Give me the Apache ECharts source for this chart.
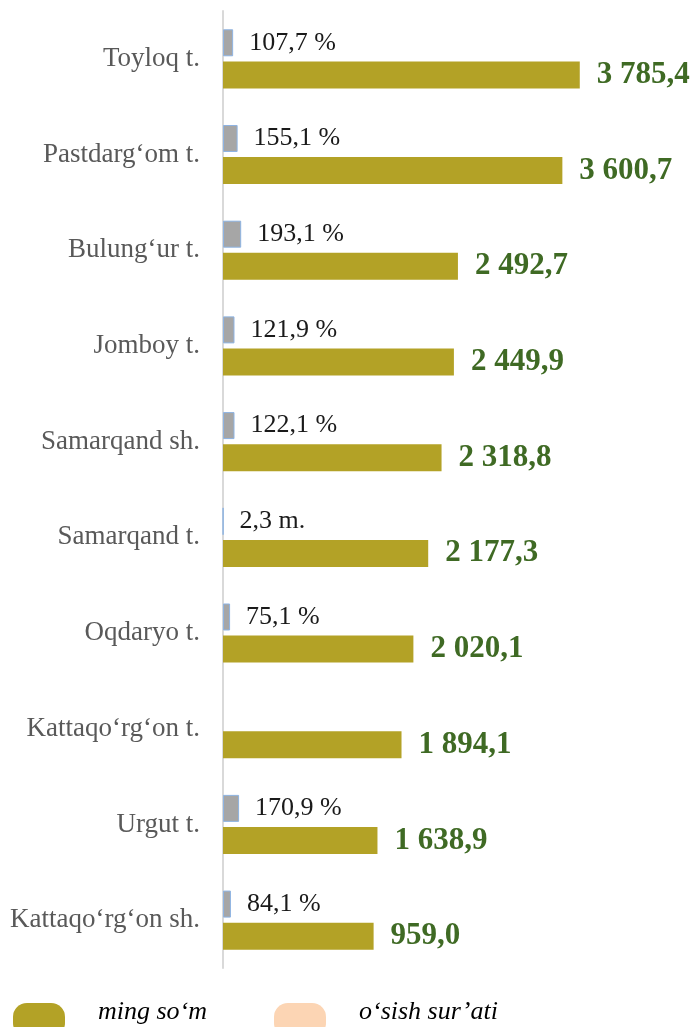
<!DOCTYPE html>
<html>
<head>
<meta charset="utf-8">
<script src="https://cdn.jsdelivr.net/npm/echarts@6/dist/echarts.min.js"></script>
<style>
  html, body { margin: 0; padding: 0; background: #fff; }
  #mychart { width: 699px; height: 1027px; }
</style>
</head>
<body>
<div id="mychart"></div>
<script>
  // tumanlar / shaharlar
  var districts = ['Toyloq t.', 'Pastdarg‘om t.', 'Bulung‘ur t.', 'Jomboy t.', 'Samarqand sh.',
    'Samarqand t.', 'Oqdaryo t.', 'Kattaqo‘rg‘on t.', 'Urgut t.', 'Kattaqo‘rg‘on sh.'];
  // ming so'm (bar lengths as drawn) and their printed labels
  var somValues = [3785.4, 3600.7, 2492.7, 2449.9, 2318.8, 2177.3, 2020.1, 1894.1, 1638.9, 1598];
  var somLabels = ['3 785,4', '3 600,7', '2 492,7', '2 449,9', '2 318,8', '2 177,3', '2 020,1', '1 894,1', '1 638,9', '959,0'];
  // o'sish sur'ati
  var growthValues = [107.7, 155.1, 193.1, 121.9, 122.1, 2.3, 75.1, null, 170.9, 84.1];
  var growthLabels = ['107,7 %', '155,1 %', '193,1 %', '121,9 %', '122,1 %', '2,3 m.', '75,1 %', '', '170,9 %', '84,1 %'];

  var serif = '"Liberation Serif", "Times New Roman", serif';
  var pill = 'path://M14,0 H38 A14,14 0 0 1 52,14 V20 A14,14 0 0 1 38,34 H14 A14,14 0 0 1 0,20 V14 A14,14 0 0 1 14,0 Z';

  function legendText() {
    return { fontFamily: serif, fontStyle: 'italic', fontSize: 26, lineHeight: 16, color: '#000', padding: [0, 0, 0, 28] };
  }
  // extra empty line lifts the legend text a bit above the icon centre
  function legendName(name) {
    return name + '\n ';
  }

  var chart = echarts.init(document.getElementById('mychart'));
  chart.setOption({
    animation: false,
    grid: { left: 223, right: 99, top: 11, bottom: 59 },
    legend: [
      {
        left: 13, top: 999, padding: 0, itemWidth: 52, itemHeight: 34, icon: pill,
        data: [{ name: 'ming so‘m', itemStyle: { color: '#b3a226' } }],
        formatter: legendName,
        textStyle: legendText()
      },
      {
        left: 274, top: 999, padding: 0, itemWidth: 52, itemHeight: 34, icon: pill,
        data: [{ name: 'o‘sish sur’ati', itemStyle: { color: '#fcd5b4', borderWidth: 0 } }],
        formatter: legendName,
        textStyle: legendText()
      }
    ],
    xAxis: {
      type: 'value', min: 0, max: 4000,
      show: false
    },
    yAxis: {
      type: 'category', inverse: true,
      data: districts,
      axisLine: { lineStyle: { color: '#d9d9d9', width: 2 } },
      axisTick: { show: false },
      axisLabel: { margin: 23, fontFamily: serif, fontSize: 27, color: '#595959' }
    },
    series: [
      {
        name: 'o‘sish sur’ati',
        type: 'bar',
        barWidth: 27,
        barGap: '19%',
        data: growthValues,
        itemStyle: { color: '#a6a6a6', borderColor: '#8eb4e3', borderWidth: 1 },
        label: {
          show: true, position: 'right', distance: 16,
          fontFamily: serif, fontSize: 26, color: '#1a1a1a',
          formatter: function (p) { return growthLabels[p.dataIndex]; }
        }
      },
      {
        name: 'ming so‘m',
        type: 'bar',
        barWidth: 27,
        data: somValues,
        itemStyle: { color: '#b3a226' },
        label: {
          show: true, position: 'right', distance: 17,
          fontFamily: serif, fontSize: 31, fontWeight: 'bold', color: '#3f6a24',
          formatter: function (p) { return somLabels[p.dataIndex]; }
        }
      }
    ]
  });
</script>
</body>
</html>
